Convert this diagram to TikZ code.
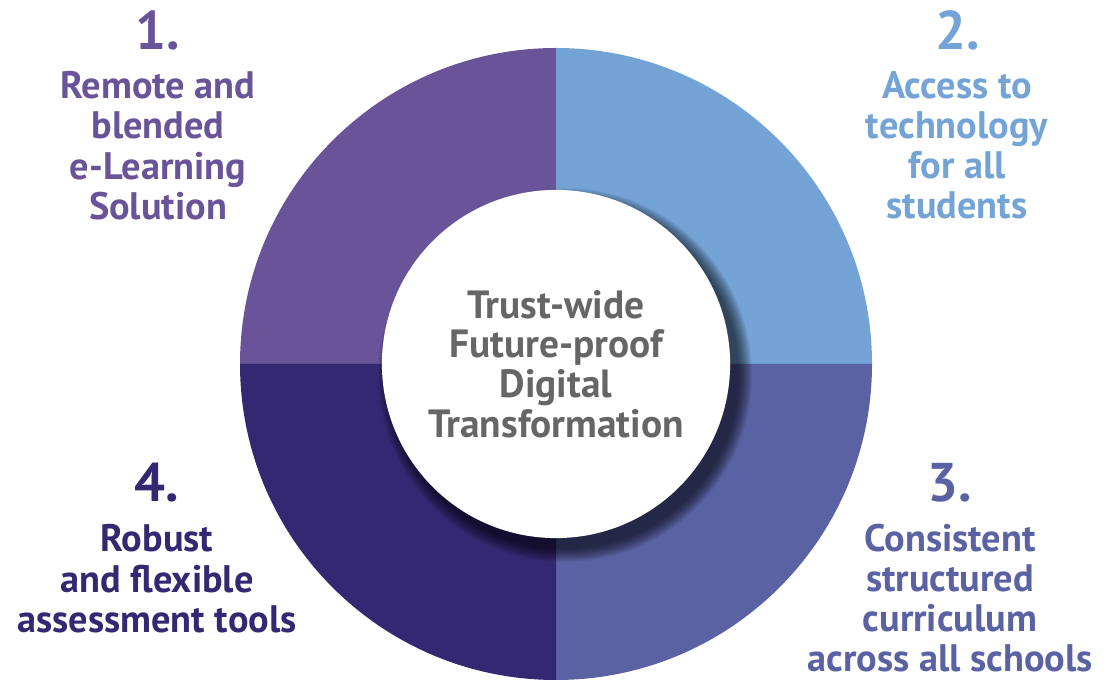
\documentclass[tikz,border=0pt]{standalone}
\usepackage{fontspec}
\setmainfont{PT Sans}
\usetikzlibrary{positioning}

\definecolor{remote}{RGB}{106,84,153}
\definecolor{access}{RGB}{116,163,214}
\definecolor{curric}{RGB}{90,98,163}
\definecolor{assess}{RGB}{53,40,114}
\definecolor{hubgray}{RGB}{102,102,102}

\begin{document}
\begin{tikzpicture}[x=0.01cm, y=0.01cm,
    itemnum/.style={font=\fontsize{15.5}{15.5}\selectfont\bfseries, inner sep=0, anchor=base},
    itemtext/.style={align=center, font=\fontsize{10.9}{11.4}\selectfont\bfseries, inner sep=0, anchor=north}]

    \useasboundingbox (0,0) rectangle (1110,679);
    \coordinate (C) at (556,315);

    % Draw the four quarters of the ring
    \foreach \a/\c in {90/remote, 0/access, -90/curric, 180/assess}
        \fill[\c] (C) -- ++(\a:316) arc[start angle=\a, end angle=\a+90, radius=316] -- cycle;

    % Soft shadow under the hub
    \foreach \r in {0,...,13}
        \fill[black, opacity=0.055] ([shift={(9,-11)}]C) circle[radius=174+\r];

    % Hub in the middle
    \node[circle, fill=white, minimum size=3.48cm, inner sep=0, align=center, text=hubgray,
          font=\fontsize{11.2}{11.3}\selectfont\bfseries] (hub) at (C)
        {Trust-wide\\Future-proof\\Digital\\Transformation};

    % 1. top left
    \node[itemnum, text=remote] (num1) at (158,629) {1.};
    \node[itemtext, text=remote] (lab1) at (158,608) {Remote and\\blended\\e-Learning\\Solution};

    % 2. top right
    \node[itemnum, text=access] (num2) at (958,629) {2.};
    \node[itemtext, text=access] (lab2) at (957,608) {Access to\\technology\\for all\\students};

    % 3. bottom right
    \node[itemnum, text=curric] (num3) at (950,177) {3.};
    \node[itemtext, text=curric] (lab3) at (950,156) {Consistent\\structured\\curriculum\\across all schools};

    % 4. bottom left
    \node[itemnum, text=assess] (num4) at (157,177) {4.};
    \node[itemtext, text=assess] (lab4) at (157,155) {Robust\\and flexible\\assessment tools};

\end{tikzpicture}
\end{document}
